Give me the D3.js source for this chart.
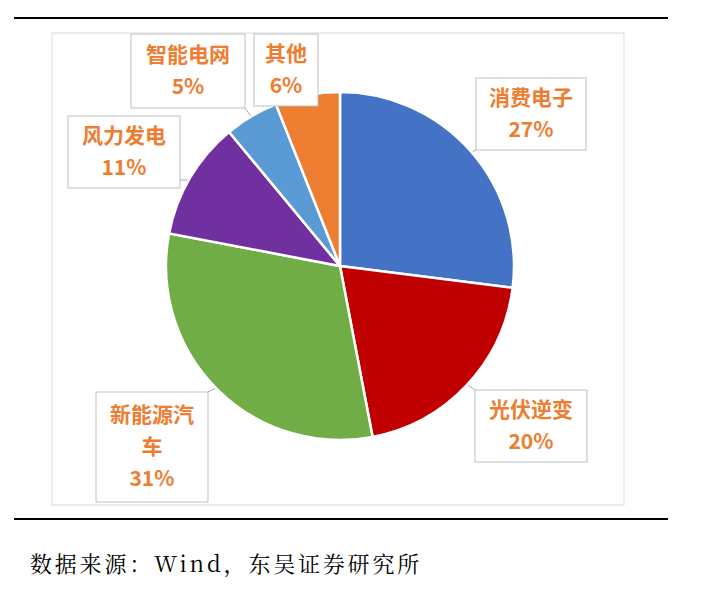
<!DOCTYPE html>
<html><head><meta charset="utf-8">
<script src="https://cdn.jsdelivr.net/npm/d3@7"></script>
<style>body{margin:0;background:#fff}</style>
</head><body>
<svg id="c" width="704" height="597"></svg>
<script>
const categories = ["消费电子", "光伏逆变", "新能源汽车", "风力发电", "智能电网", "其他"];
const shares = [27, 20, 31, 11, 5, 6];
const colors = ["#4472C4", "#C00000", "#70AD47", "#7030A0", "#5B9BD5", "#ED7D31"];
// label boxes: [x, y, w, h, text lines]
const labelBoxes = [
  [476, 78, 110, 72, ["消费电子", "27%"]],
  [475, 390, 112, 72, ["光伏逆变", "20%"]],
  [96, 392, 112, 110, ["新能源汽", "车", "31%"]],
  [68, 116, 112, 72, ["风力发电", "11%"]],
  [131, 34, 114, 74, ["智能电网", "5%"]],
  [254, 34, 64, 72, ["其他", "6%"]]
];

const svg = d3.select("#c");
const cx = 340, cy = 266, r = 174;

svg.append("line").attr("x1", 14).attr("x2", 668).attr("y1", 18).attr("y2", 18).attr("stroke", "#000").attr("stroke-width", 2);
svg.append("line").attr("x1", 14).attr("x2", 668).attr("y1", 519).attr("y2", 519).attr("stroke", "#000").attr("stroke-width", 2);
svg.append("rect").attr("x", 52).attr("y", 33).attr("width", 572).attr("height", 472)
  .attr("fill", "none").attr("stroke", "#d9d9d9");

const pie = d3.pie().sort(null).value(d => d)(shares);
const arc = d3.arc().innerRadius(0).outerRadius(r);
const g = svg.append("g").attr("transform", `translate(${cx},${cy})`);

// leader lines (drawn under slices so only the outside part shows)
const edge = d3.arc().innerRadius(r * 0.97).outerRadius(r * 0.97);
pie.forEach((d, i) => {
  const [bx, by, bw, bh] = labelBoxes[i];
  const p = edge.centroid(d);
  const px = cx + p[0], py = cy + p[1];
  const ex = Math.max(bx, Math.min(bx + bw, px)), ey = Math.max(by, Math.min(by + bh, py));
  svg.append("line").attr("x1", px).attr("y1", py).attr("x2", ex).attr("y2", ey)
    .attr("stroke", "#a6a6a6").attr("stroke-width", 1);
});

g.raise();
g.selectAll("path").data(pie).join("path")
  .attr("d", arc).attr("fill", (d, i) => colors[i])
  .attr("stroke", "#fff").attr("stroke-width", 2.5);

labelBoxes.forEach(([x, y, w, h, lines]) => {
  svg.append("rect").attr("x", x).attr("y", y).attr("width", w).attr("height", h)
    .attr("fill", "#fff").attr("stroke", "#bfbfbf");
  const lh = 32, y0 = y + h / 2 - (lines.length - 1) * lh / 2;
  lines.forEach((t, j) => {
    svg.append("text").attr("x", x + w / 2).attr("y", y0 + j * lh).attr("dy", "0.35em")
      .attr("text-anchor", "middle").attr("fill", "#ED7D31").attr("font-weight", "bold")
      .attr("font-size", 21).attr("font-family", "Noto Sans CJK SC, sans-serif").text(t);
  });
});

svg.append("text").attr("x", 30).attr("y", 572).attr("font-size", 22).attr("letter-spacing", 2.8)
  .attr("font-family", "Noto Serif CJK SC, Liberation Serif, serif").text("数据来源：Wind，东吴证券研究所");
</script>
</body></html>
